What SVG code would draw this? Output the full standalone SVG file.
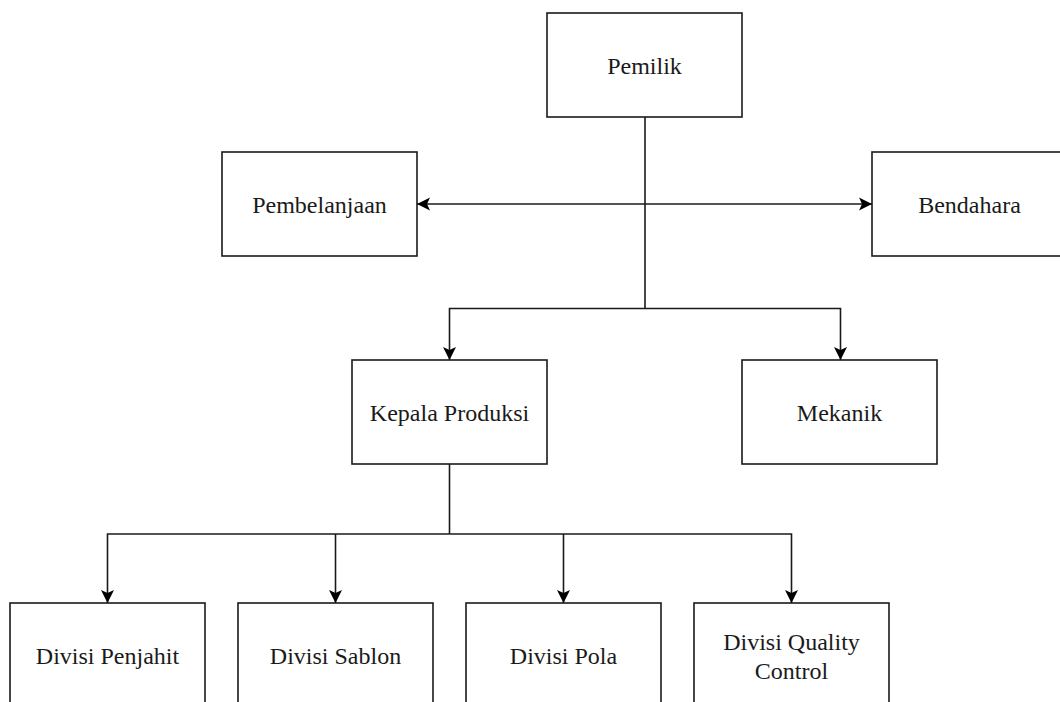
<svg xmlns="http://www.w3.org/2000/svg" width="1060" height="702" viewBox="0 0 1060 702">
<style>
.box{fill:#fff;stroke:#1a1a1a;stroke-width:1.6}
.lbl{font-family:"Liberation Serif","Times New Roman",serif;font-size:24px;fill:#1a1a1a;text-anchor:middle}
.ln{fill:none;stroke:#1a1a1a;stroke-width:1.6}
</style>
<defs>
<marker id="arr" markerWidth="16" markerHeight="16" viewBox="0 0 16 16" refX="15" refY="8" orient="auto" markerUnits="userSpaceOnUse">
<path d="M2,1.5 L15,8 L2,14.5 L5,8 Z" fill="#000"/>
</marker>
</defs>
<rect width="1060" height="702" fill="#fff"/>
<g id="connectors">
<path class="ln" d="M645,117 V308.5"/>
<path class="ln" d="M645,204 H417" marker-end="url(#arr)"/>
<path class="ln" d="M645,204 H872" marker-end="url(#arr)"/>
<path class="ln" d="M645,308.5 H449.5 V360" marker-end="url(#arr)"/>
<path class="ln" d="M645,308.5 H840.5 V360" marker-end="url(#arr)"/>
<path class="ln" d="M449.5,464 V534"/>
<path class="ln" d="M449.5,534 H107.5 V603" marker-end="url(#arr)"/>
<path class="ln" d="M335.5,534 V603" marker-end="url(#arr)"/>
<path class="ln" d="M449.5,534 H791.5 V603" marker-end="url(#arr)"/>
<path class="ln" d="M563.5,534 V603" marker-end="url(#arr)"/>
</g>
<g id="pemilik"><rect class="box" x="547" y="13" width="195" height="104"/><text class="lbl" x="644.5" y="74">Pemilik</text></g>
<g id="pembelanjaan"><rect class="box" x="222" y="152" width="195" height="104"/><text class="lbl" x="319.5" y="213">Pembelanjaan</text></g>
<g id="bendahara"><rect class="box" x="872" y="152" width="195" height="104"/><text class="lbl" x="969.5" y="213">Bendahara</text></g>
<g id="kepala-produksi"><rect class="box" x="352" y="360" width="195" height="104"/><text class="lbl" x="449.5" y="421">Kepala Produksi</text></g>
<g id="mekanik"><rect class="box" x="742" y="360" width="195" height="104"/><text class="lbl" x="839.5" y="421">Mekanik</text></g>
<g id="divisi-penjahit"><rect class="box" x="10" y="603" width="195" height="104"/><text class="lbl" x="107.5" y="664">Divisi Penjahit</text></g>
<g id="divisi-sablon"><rect class="box" x="238" y="603" width="195" height="104"/><text class="lbl" x="335.5" y="664">Divisi Sablon</text></g>
<g id="divisi-pola"><rect class="box" x="466" y="603" width="195" height="104"/><text class="lbl" x="563.5" y="664">Divisi Pola</text></g>
<g id="divisi-quality-control"><rect class="box" x="694" y="603" width="195" height="104"/><text class="lbl" x="791.5" y="650">Divisi Quality</text><text class="lbl" x="791.5" y="679">Control</text></g>
</svg>
